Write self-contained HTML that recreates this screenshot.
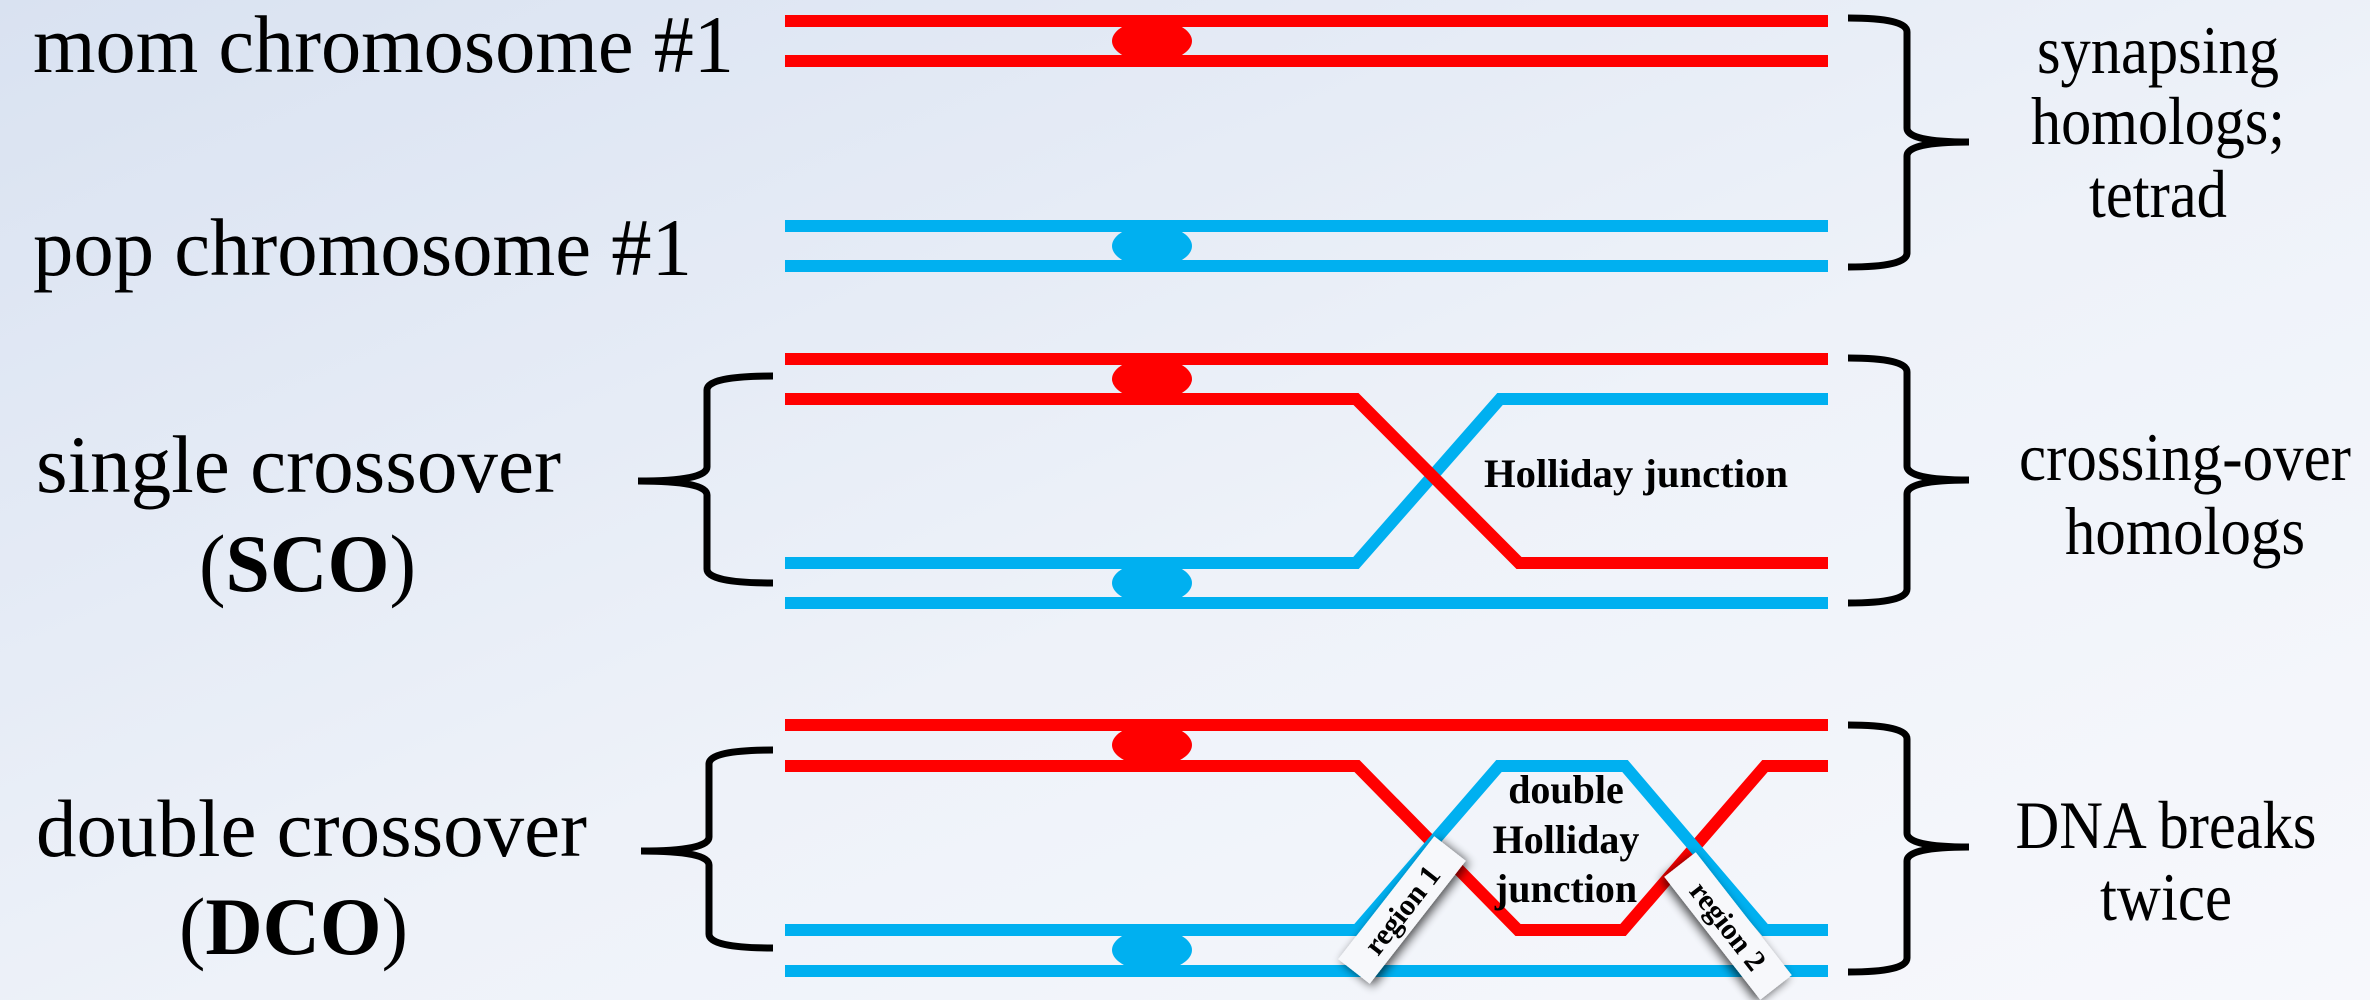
<!DOCTYPE html>
<html><head><meta charset="utf-8"><style>
html,body{margin:0;padding:0;width:2370px;height:1000px;overflow:hidden}
svg{display:block}
text{font-family:"Liberation Serif",serif;fill:#000}
</style></head><body>
<svg width="2370" height="1000" viewBox="0 0 2370 1000" xmlns="http://www.w3.org/2000/svg">
<defs>
<linearGradient id="bg" x1="0" y1="0" x2="1" y2="1">
<stop offset="0" stop-color="#d9e2f1"/><stop offset="0.55" stop-color="#eef2f9"/><stop offset="1" stop-color="#f7f8fc"/>
</linearGradient>
<filter id="sh" x="-40%" y="-80%" width="180%" height="260%"><feGaussianBlur in="SourceAlpha" stdDeviation="5"/><feOffset dx="0" dy="4"/><feComponentTransfer><feFuncA type="linear" slope="0.7"/></feComponentTransfer><feMerge><feMergeNode/><feMergeNode in="SourceGraphic"/></feMerge></filter>
</defs>
<rect width="2370" height="1000" fill="url(#bg)"/>

<g stroke-width="12" fill="none">
<!-- section 1 -->
<line x1="785" y1="21" x2="1828" y2="21" stroke="#ff0000"/>
<line x1="785" y1="61" x2="1828" y2="61" stroke="#ff0000"/>
<line x1="785" y1="226" x2="1828" y2="226" stroke="#00b0f0"/>
<line x1="785" y1="266" x2="1828" y2="266" stroke="#00b0f0"/>
<!-- section 2 -->
<line x1="785" y1="359" x2="1828" y2="359" stroke="#ff0000"/>
<line x1="785" y1="603" x2="1828" y2="603" stroke="#00b0f0"/>
<polyline points="785,563 1356,563 1500,399 1828,399" stroke="#00b0f0"/>
<polyline points="785,399 1356,399 1519,563 1828,563" stroke="#ff0000"/>
<!-- section 3 -->
<line x1="785" y1="725" x2="1828" y2="725" stroke="#ff0000"/>
<line x1="785" y1="971" x2="1828" y2="971" stroke="#00b0f0"/>
<polyline points="785,766 1357,766 1518,930 1623,930 1765,766 1828,766" stroke="#ff0000"/>
<polyline points="785,930 1357,930 1499,766 1625,766 1765,930 1828,930" stroke="#00b0f0"/>
</g>
<!-- centromeres -->
<ellipse cx="1152" cy="41" rx="40" ry="21" fill="#ff0000"/>
<ellipse cx="1152" cy="246" rx="40" ry="21" fill="#00b0f0"/>
<ellipse cx="1152" cy="379" rx="40" ry="21" fill="#ff0000"/>
<ellipse cx="1152" cy="583" rx="40" ry="21" fill="#00b0f0"/>
<ellipse cx="1152" cy="745" rx="40" ry="21" fill="#ff0000"/>
<ellipse cx="1152" cy="950" rx="40" ry="21" fill="#00b0f0"/>

<!-- brackets -->
<g stroke="#000" stroke-width="7" fill="none">
<path d="M1848,18 Q1907,18 1907,32 V128 Q1907,142 1969,142 Q1907,142 1907,156 V253 Q1907,267 1848,267"/>
<path d="M1848,358 Q1907,358 1907,372 V466 Q1907,480 1969,480 Q1907,480 1907,494 V589 Q1907,603 1848,603"/>
<path d="M1848,725 Q1907,725 1907,739 V833 Q1907,847 1969,847 Q1907,847 1907,861 V958 Q1907,972 1848,972"/>
<path d="M773,376 Q707,376 707,390 V467 Q707,481 638,481 Q707,481 707,495 V569 Q707,583 773,583"/>
<path d="M773,750 Q709,750 709,764 V837 Q709,851 641,851 Q709,851 709,865 V934 Q709,948 773,948"/>
</g>

<!-- left labels -->
<text x="33" y="72" font-size="82" textLength="701" lengthAdjust="spacingAndGlyphs">mom chromosome #1</text>
<text x="33" y="275" font-size="82" textLength="659" lengthAdjust="spacingAndGlyphs">pop chromosome #1</text>
<text x="36" y="492" font-size="82" textLength="525" lengthAdjust="spacingAndGlyphs">single crossover</text>
<text x="199" y="591" font-size="82" textLength="217" lengthAdjust="spacingAndGlyphs">(<tspan font-weight="bold">SCO</tspan>)</text>
<text x="36" y="856" font-size="82" textLength="551" lengthAdjust="spacingAndGlyphs">double crossover</text>
<text x="179" y="954" font-size="82" textLength="229" lengthAdjust="spacingAndGlyphs">(<tspan font-weight="bold">DCO</tspan>)</text>

<!-- right labels -->
<g font-size="68" text-anchor="middle">
<text x="2158" y="73" textLength="242" lengthAdjust="spacingAndGlyphs">synapsing</text>
<text x="2158" y="144" textLength="254" lengthAdjust="spacingAndGlyphs">homologs;</text>
<text x="2158" y="217" textLength="138" lengthAdjust="spacingAndGlyphs">tetrad</text>
<text x="2185" y="480" textLength="332" lengthAdjust="spacingAndGlyphs">crossing-over</text>
<text x="2185" y="554" textLength="240" lengthAdjust="spacingAndGlyphs">homologs</text>
<text x="2166" y="848" textLength="301" lengthAdjust="spacingAndGlyphs">DNA breaks</text>
<text x="2166" y="920" textLength="132" lengthAdjust="spacingAndGlyphs">twice</text>
</g>

<!-- junction labels -->
<text x="1484" y="487" font-size="40" font-weight="bold" textLength="304" lengthAdjust="spacingAndGlyphs">Holliday junction</text>
<g font-size="40" font-weight="bold" text-anchor="middle">
<text x="1566" y="803">double</text>
<text x="1566" y="853">Holliday</text>
<text x="1566" y="902">junction</text>
</g>

<!-- region tags -->
<g transform="translate(1402,910) rotate(-52)">
<rect x="-78" y="-20" width="156" height="40" fill="#f7f8fb" filter="url(#sh)"/>
<text x="0" y="10" font-size="30" font-weight="bold" text-anchor="middle">region 1</text>
</g>
<g transform="translate(1728,926) rotate(52)">
<rect x="-78" y="-20" width="156" height="40" fill="#f7f8fb" filter="url(#sh)"/>
<text x="0" y="10" font-size="30" font-weight="bold" text-anchor="middle">region 2</text>
</g>
</svg>
</body></html>
